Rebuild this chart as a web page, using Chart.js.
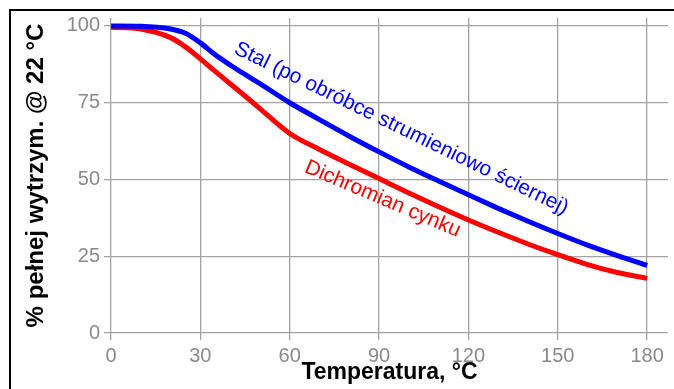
<!DOCTYPE html>
<html>
<head>
<meta charset="utf-8">
<script src="https://cdn.jsdelivr.net/npm/chart.js@4.4.1/dist/chart.umd.min.js"></script>
<style>
  html, body { margin: 0; padding: 0; background: #fff; }
  #wrap { position: relative; width: 674px; height: 389px; overflow: hidden; }
  #frame {
    position: absolute; left: 9px; top: 9px; width: 700px; height: 400px;
    border-left: 2px solid #000; border-top: 2px solid #000; pointer-events: none;
  }
</style>
</head>
<body>
<div id="wrap">
  <canvas id="strength_chart" width="674" height="389"></canvas>
  <div id="frame"></div>
</div>
<script>
"use strict";

const temperatures = [0, 10, 20, 25, 30, 35, 40, 45, 50, 60, 70, 80, 90, 100, 110, 120, 130, 140, 150, 160, 170, 180];
const steelValues = [100, 99.9, 99, 97.6, 94.5, 90.6, 87.3, 84.2, 81.2, 75, 69.5, 64.1, 59, 54.1, 49.5, 45, 40.6, 36.4, 32.4, 28.6, 25.2, 22];
const zincValues = [99.6, 99, 96.2, 93.2, 89.3, 85.2, 81.2, 77.2, 73.1, 65, 59.8, 55, 50.3, 45.6, 41.1, 36.8, 32.8, 29, 25.5, 22.3, 19.7, 17.8];
const xTicks = [0, 30, 60, 90, 120, 150, 180];
const yTicks = [0, 25, 50, 75, 100];

const sans = "'Liberation Sans', Arial, sans-serif";

// text placed along the curves, in data coordinates
const lineLabels = [
  { text: "Stal (po obróbce strumieniowo ściernej)", x: 97.5, y: 66.6, angle: 26, color: "#0000ff" },
  { text: "Dichromian cynku", x: 91.2, y: 43.6, angle: 23, color: "#ff0000" },
];

const labelPlugin = {
  id: "lineLabels",
  afterDatasetsDraw(chart) {
    const ctx = chart.ctx;
    const xs = chart.scales.x;
    const ys = chart.scales.y;
    ctx.save();
    ctx.font = "21px " + sans;
    ctx.textAlign = "center";
    ctx.textBaseline = "middle";
    lineLabels.forEach((l) => {
      ctx.save();
      ctx.translate(xs.getPixelForValue(l.x), ys.getPixelForValue(l.y));
      ctx.rotate((l.angle * Math.PI) / 180);
      ctx.fillStyle = l.color;
      ctx.fillText(l.text, 0, 0);
      ctx.restore();
    });
    ctx.restore();
  },
};

const gridColor = "#a3a3a3";
const tickFont = { family: sans, size: 20 };

const strengthChartContext = document
  .getElementById("strength_chart")
  .getContext("2d");

const strengthChart = new Chart(strengthChartContext, {
  type: "line",
  data: {
    labels: temperatures,
    datasets: [
      {
        data: temperatures.map((t, i) => ({ x: t, y: steelValues[i] })),
        borderColor: "#0000ff",
        borderWidth: 5,
        pointRadius: 0,
        cubicInterpolationMode: "monotone",
      },
      {
        data: temperatures.map((t, i) => ({ x: t, y: zincValues[i] })),
        borderColor: "#ff0000",
        borderWidth: 5,
        pointRadius: 0,
        cubicInterpolationMode: "monotone",
      },
    ],
  },
  options: {
    responsive: false,
    animation: false,
    layout: { padding: { left: 0, right: 6, top: 18, bottom: 0 } },
    plugins: { legend: { display: false }, tooltip: { enabled: false } },
    scales: {
      x: {
        type: "linear",
        min: 0,
        max: 187,
        afterBuildTicks: (scale) => {
          scale.ticks = xTicks.map((v) => ({ value: v }));
        },
        afterFit: (scale) => {
          scale.height = 56;
        },
        ticks: { color: "#8a8a8a", font: tickFont, padding: 4, maxRotation: 0 },
        grid: { color: gridColor, lineWidth: 1.3, tickLength: 7, tickColor: gridColor },
        border: { display: false },
        title: {
          display: true,
          text: "Temperatura, °C",
          color: "#000",
          font: { family: sans, size: 23, weight: "bold" },
          padding: { top: 0, bottom: 3 },
        },
      },
      y: {
        min: 0,
        max: 102.6,
        afterBuildTicks: (scale) => {
          scale.ticks = yTicks.map((v) => ({ value: v }));
        },
        afterFit: (scale) => {
          scale.width = 111;
        },
        ticks: { color: "#8a8a8a", font: tickFont, padding: 4 },
        grid: { color: gridColor, lineWidth: 1.3, tickLength: 7, tickColor: gridColor },
        border: { display: false },
        title: {
          display: true,
          text: "% pełnej wytrzym. @ 22 °C",
          color: "#000",
          font: { family: sans, size: 24, weight: "bold" },
          padding: { top: 22, bottom: 0 },
        },
      },
    },
  },
  plugins: [labelPlugin],
});
</script>
</body>
</html>
